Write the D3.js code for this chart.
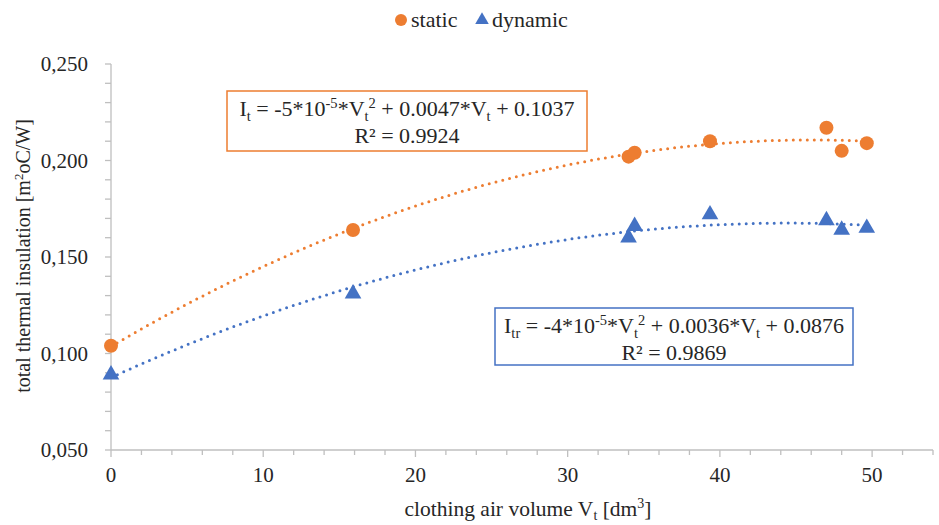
<!DOCTYPE html>
<html><head><meta charset="utf-8">
<script src="https://cdn.jsdelivr.net/npm/d3@7"></script>
<style>body{margin:0;background:#fff}svg{display:block}</style>
</head><body><svg id="c" width="939" height="525" font-family="'Liberation Serif', 'Times New Roman', 'DejaVu Serif', serif" fill="#262626"></svg>
<script>
const xValues = [0, 15.9, 34.0, 34.4, 39.35, 47.0, 48.0, 49.65];
const staticValues = [0.104, 0.164, 0.202, 0.204, 0.210, 0.217, 0.205, 0.209];
const dynamicValues = [0.089, 0.131, 0.160, 0.166, 0.172, 0.169, 0.164, 0.165];
const seriesNames = ["static", "dynamic"];
const xTicks = [0, 10, 20, 30, 40, 50];
const yTicks = [0.05, 0.10, 0.15, 0.20, 0.25];
const colors = {static: "#ED7D31", dynamic: "#4472C4"};

const FONT = "'Liberation Serif', 'Times New Roman', 'DejaVu Serif', serif";
const svg = d3.select("#c");
const x = d3.scaleLinear().domain([0, 54]).range([111, 933]);
const y = d3.scaleLinear().domain([0.05, 0.25]).range([450, 64]);
const axisColor = "#BFBFBF";
function txt(sel) { return sel.append("text").attr("font-family", FONT).attr("fill", "#262626"); }

// Y axis
svg.append("line").attr("x1", x(0)).attr("x2", x(0)).attr("y1", y(0.25)).attr("y2", y(0.05)).attr("stroke", axisColor).attr("stroke-width", 1.3);
d3.range(0.05, 0.2501, 0.01).forEach(v => {
  svg.append("line").attr("x1", x(0) - 6).attr("x2", x(0)).attr("y1", y(v)).attr("y2", y(v)).attr("stroke", axisColor).attr("stroke-width", 1.3);
});
yTicks.forEach(v => {
  txt(svg).attr("x", 88).attr("y", y(v) + 7).attr("text-anchor", "end").attr("font-size", 21).text(d3.format(".3f")(v).replace(".", ","));
});
// X axis
svg.append("line").attr("x1", x(0)).attr("x2", x(54)).attr("y1", y(0.05)).attr("y2", y(0.05)).attr("stroke", axisColor).attr("stroke-width", 1.3);
d3.range(0, 54.01, 2).forEach(v => {
  const major = v % 10 === 0;
  svg.append("line").attr("x1", x(v)).attr("x2", x(v)).attr("y1", y(0.05)).attr("y2", y(0.05) + (major ? 7 : 5)).attr("stroke", axisColor).attr("stroke-width", 1.3);
});
xTicks.forEach(v => {
  txt(svg).attr("x", x(v)).attr("y", 482).attr("text-anchor", "middle").attr("font-size", 21).text(v);
});

// Axis titles
const yt = txt(svg).attr("transform", "translate(30,256) rotate(-90)").attr("text-anchor", "middle").attr("font-size", 20);
yt.append("tspan").text("total thermal insulation [m");
yt.append("tspan").attr("dy", -7).attr("font-size", 13).text("2");
yt.append("tspan").attr("dy", 7).text("oC/W]");
const xt = txt(svg).attr("x", 528).attr("y", 516).attr("text-anchor", "middle").attr("font-size", 21.5);
xt.append("tspan").text("clothing air volume V");
xt.append("tspan").attr("dy", 4).attr("font-size", 14).text("t");
xt.append("tspan").attr("dy", -4).text(" [dm");
xt.append("tspan").attr("dy", -8).attr("font-size", 14).text("3");
xt.append("tspan").attr("dy", 8).text("]");

// quadratic least squares fit
function fit(xs, ys) {
  let S = [0,0,0,0,0], T = [0,0,0];
  xs.forEach((xi, i) => { for (let k = 0; k < 5; k++) S[k] += Math.pow(xi, k); for (let k = 0; k < 3; k++) T[k] += ys[i] * Math.pow(xi, k); });
  const A = [[S[0],S[1],S[2],T[0]],[S[1],S[2],S[3],T[1]],[S[2],S[3],S[4],T[2]]];
  for (let i = 0; i < 3; i++) { for (let j = i+1; j < 3; j++) { const f = A[j][i]/A[i][i]; for (let k = i; k < 4; k++) A[j][k] -= f*A[i][k]; } }
  const c = [0,0,0];
  for (let i = 2; i >= 0; i--) { let s = A[i][3]; for (let k = i+1; k < 3; k++) s -= A[i][k]*c[k]; c[i] = s/A[i][i]; }
  return v => c[0] + c[1]*v + c[2]*v*v;
}
const series = [{name: "static", vals: staticValues}, {name: "dynamic", vals: dynamicValues}];
const xmax = d3.max(xValues);
series.forEach(s => {
  const f = fit(xValues, s.vals);
  const pts = d3.range(0, xmax + 0.001, xmax / 200).map(v => [x(v), y(f(v))]);
  svg.append("path").attr("d", d3.line()(pts)).attr("fill", "none").attr("stroke", colors[s.name]).attr("stroke-width", 3).attr("stroke-linecap", "round").attr("stroke-dasharray", "0 7");
});
// markers
const tri = d3.symbol().type(d3.symbolTriangle).size(120);
series.forEach(s => {
  s.vals.forEach((v, i) => {
    if (s.name === "static") svg.append("circle").attr("cx", x(xValues[i])).attr("cy", y(v)).attr("r", 7).attr("fill", colors.static);
    else svg.append("path").attr("d", tri()).attr("transform", `translate(${x(xValues[i])},${y(v)})`).attr("fill", colors.dynamic);
  });
});

// legend
svg.append("circle").attr("cx", 401).attr("cy", 20).attr("r", 6).attr("fill", colors.static);
txt(svg).attr("x", 411).attr("y", 27).attr("font-size", 22).text(seriesNames[0]);
svg.append("path").attr("d", d3.symbol().type(d3.symbolTriangle).size(80)()).attr("transform", "translate(482,20)").attr("fill", colors.dynamic);
txt(svg).attr("x", 492).attr("y", 27).attr("font-size", 22).text(seriesNames[1]);

// equation boxes
function eqBox(bx, by, bw, bh, color, sub, a, b, c, r2) {
  svg.append("rect").attr("x", bx).attr("y", by).attr("width", bw).attr("height", bh).attr("fill", "#fff").attr("stroke", color).attr("stroke-width", 1.5);
  const cx = bx + bw / 2;
  const t = txt(svg).attr("x", cx).attr("y", by + 25).attr("text-anchor", "middle").attr("font-size", 22);
  t.append("tspan").text("I");
  t.append("tspan").attr("dy", 5).attr("font-size", 14.5).text(sub);
  t.append("tspan").attr("dy", -5).text(" = " + a + "*10");
  t.append("tspan").attr("dy", -8).attr("font-size", 14.5).text("-5");
  t.append("tspan").attr("dy", 8).text("*V");
  t.append("tspan").attr("dy", 5).attr("font-size", 14.5).text("t");
  t.append("tspan").attr("dy", -13).attr("font-size", 14.5).text("2");
  t.append("tspan").attr("dy", 8).text(" + " + b + "*V");
  t.append("tspan").attr("dy", 5).attr("font-size", 14.5).text("t");
  t.append("tspan").attr("dy", -5).text(" + " + c);
  txt(svg).attr("x", cx).attr("y", by + 52).attr("text-anchor", "middle").attr("font-size", 22).text("R² = " + r2);
}
eqBox(227, 91, 360, 60, colors.static, "t", "-5", "0.0047", "0.1037", "0.9924");
eqBox(495, 308, 358, 57, colors.dynamic, "tr", "-4", "0.0036", "0.0876", "0.9869");
</script></body></html>
